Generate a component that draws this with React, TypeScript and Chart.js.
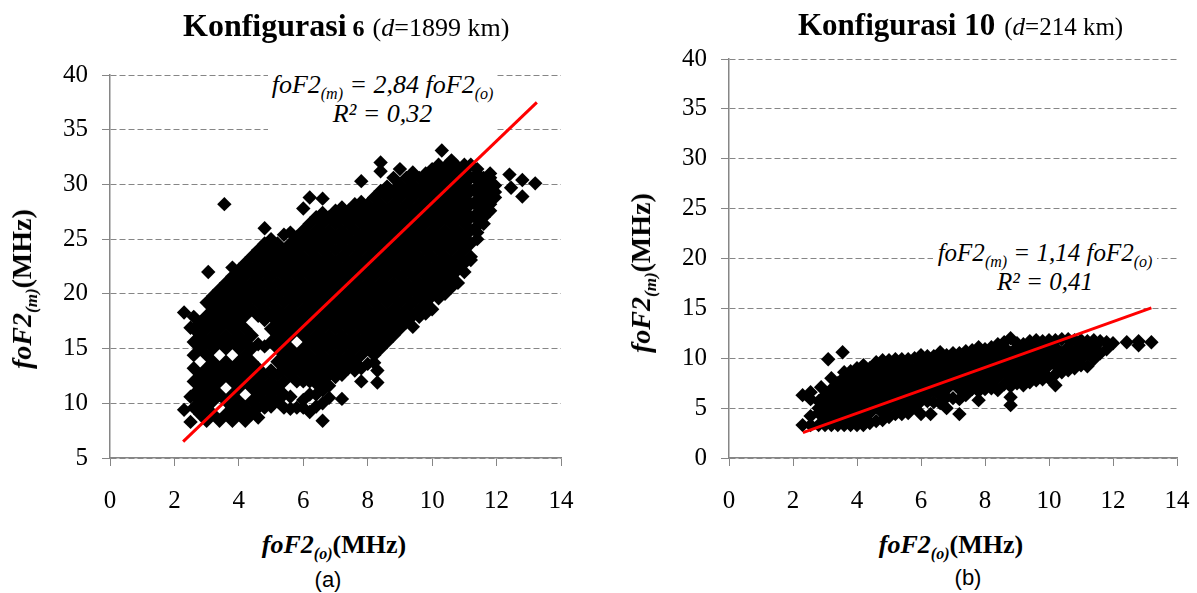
import React, { useEffect, useRef } from "react";
import { Chart, registerables } from "chart.js";

Chart.register(...registerables);

// Chart (a): observed foF2 per column, and modelled foF2 values read in that column
const obsA: number[] = [2.3,2.5,2.6,2.8,3.0,3.05,3.2,3.4,3.55,3.6,3.8,4.0,4.2,4.4,4.6,4.8,5.0,5.2,5.4,5.6,5.8,6.0,6.2,6.4,6.6,6.8,7.0,7.2,7.4,7.6,7.8,8.0,8.2,8.3,8.4,8.6,8.8,9.0,9.2,9.4,9.6,9.8,10.0,10.2,10.3,10.4,10.6,10.8,11.0,11.2,11.4,11.6,11.8,11.95,12.4,12.45,12.8,13.2];
const modA: number[][] = [
  [9.4,18.3],
  [8.3,10.6,16.9],
  [9.6,10.8,12.0,13.2,14.4,15.6,16.8,17.9],
  [9.0,10.2,11.4,12.6,15.0,16.2,17.4],
  [8.4,9.6,10.8,12.0,13.2,14.4,15.6,16.8,18.0,19.2],
  [22.0],
  [9.0,10.2,11.4,12.6,13.8,15.0,16.2,17.4,18.6,19.8],
  [8.4,10.8,12.0,13.2,15.6,16.8,18.0,19.2,20.4],
  [28.2],
  [9.0,10.2,12.6,13.8,15.0,16.2,17.4,18.6,19.8,21.0],
  [8.4,9.6,10.8,12.0,13.2,15.6,16.8,18.0,19.2,20.4,21.6,22.4],
  [9.0,10.2,11.4,12.6,13.8,15.0,16.2,17.4,18.6,19.8,21.0,22.2],
  [8.4,9.6,12.0,13.2,14.4,15.6,16.8,18.0,19.2,20.4,21.6,22.8],
  [9.0,10.2,11.4,12.6,13.8,15.0,16.2,18.6,19.8,21.0,22.2,23.4],
  [8.7,9.6,10.8,12.0,13.2,15.4,18.0,19.2,20.4,21.6,22.8,24.0],
  [9.6,10.2,11.4,12.6,15.2,17.6,18.6,19.8,21.0,22.2,23.4,24.6,26.0],
  [9.7,10.8,12.0,13.0,15.6,16.8,18.0,19.2,20.4,21.6,22.8,24.0,25.0],
  [10.2,11.4,12.6,13.8,15.0,16.2,17.4,18.6,19.8,21.0,22.2,23.4,24.6],
  [9.6,10.8,12.0,13.2,14.4,15.6,16.8,18.0,19.2,20.4,21.6,22.8,24.0,25.4],
  [9.5,10.6,12.6,13.8,15.0,16.2,17.4,18.6,19.8,21.0,22.2,23.4,24.6,25.6],
  [9.6,12.0,13.2,14.4,16.8,18.0,19.2,20.4,21.6,22.8,24.0,25.2],
  [9.6,10.3,12.0,12.6,13.8,15.0,16.2,17.4,18.6,19.8,21.0,22.2,23.4,24.6,25.8,27.8],
  [9.2,10.8,12.0,13.2,14.4,15.6,16.8,18.0,19.2,20.4,21.6,22.8,24.0,25.2,26.4,28.8],
  [9.7,10.8,11.8,12.6,13.8,15.0,16.2,17.4,18.6,19.8,21.0,22.2,23.4,24.6,25.8,27.0],
  [8.4,10.0,11.2,12.0,13.2,14.4,15.6,16.8,18.0,19.2,20.4,21.6,22.8,24.0,25.2,26.4,27.4,28.7],
  [10.5,11.6,12.6,13.8,15.0,16.2,17.4,18.6,19.8,21.0,22.2,23.4,24.6,25.8,27.0],
  [12.4,13.2,14.4,15.6,16.8,18.0,19.2,20.4,21.6,22.8,24.0,25.2,26.4,27.6],
  [10.4,12.6,13.8,15.0,16.2,17.4,18.6,19.8,21.0,22.2,23.4,24.6,25.8,27.0,27.9],
  [13.2,14.4,15.6,16.8,18.0,19.2,20.4,21.6,22.8,24.0,25.2,26.4,27.6],
  [13.0,13.8,15.0,16.2,17.4,18.6,19.8,21.0,22.2,23.4,24.6,25.8,27.0,28.2],
  [12.0,13.2,14.4,15.6,16.8,18.0,19.2,20.4,21.6,22.8,24.0,25.2,26.4,27.6,28.4,30.3],
  [13.6,15.0,16.2,17.4,18.6,19.8,21.0,22.2,23.4,24.6,25.8,27.0,28.2],
  [13.7,14.4,15.6,16.8,18.0,19.2,20.4,21.6,22.8,24.0,25.2,26.4,27.6,28.8],
  [11.9,13.0],
  [15.0,16.2,17.4,18.6,19.8,21.0,22.2,23.4,24.6,25.8,27.0,28.2,29.4,31.2,32.0],
  [15.6,16.8,18.0,19.2,20.4,21.6,22.8,24.0,25.2,26.4,27.6,28.8,29.8],
  [16.2,17.4,18.6,19.8,21.0,22.2,23.4,24.6,25.8,27.0,28.2,29.4,30.6],
  [16.8,18.0,19.2,20.4,21.6,22.8,24.0,25.2,26.4,27.6,28.8,30.0,31.4],
  [17.4,18.6,19.8,21.0,22.2,23.4,24.6,25.8,27.0,28.2,29.4,30.6],
  [17.0,18.0,19.2,20.4,21.6,22.8,24.0,25.2,26.4,27.6,28.8,30.0,31.1],
  [17.9,18.6,19.8,21.0,22.2,23.4,24.6,25.8,27.0,28.2,29.4,30.6],
  [18.2,19.2,20.4,21.6,22.8,24.0,25.2,26.4,27.6,28.8,30.0,31.0],
  [18.6,19.8,21.0,22.2,23.4,24.6,25.8,27.0,28.2,29.4,30.6,31.4],
  [19.6,20.4,21.6,22.8,24.0,25.2,26.4,27.6,28.8,30.0,31.2,31.8],
  [33.1],
  [20.0,21.0,22.2,23.4,24.6,25.8,27.0,28.2,29.4,30.6,31.6],
  [20.6,21.6,22.8,24.0,25.2,26.4,27.6,28.8,30.0,31.2,32.2],
  [21.0,22.2,23.4,24.6,25.8,27.0,28.2,29.4,30.6,31.6],
  [22.0,22.8,24.0,25.2,26.4,27.6,28.8,30.0,31.2,31.8],
  [23.1,23.4,24.6,25.8,27.0,28.2,29.4,30.6,31.8],
  [25.0,25.6,26.2,26.8,27.4,28.0,28.6,29.2,29.8,30.4,31.0,31.4],
  [26.4,27.0,27.6,28.2,28.8,29.4,30.0,30.6],
  [27.6,28.2,28.8,29.4,30.0,30.6,31.0],
  [28.8,29.3,29.9],
  [30.9],
  [29.7],
  [30.4,28.9],
  [30.1],
];
const lineXA: number[] = [2.27, 13.25];
const lineYA: number[] = [6.5, 37.5];

// Chart (b)
const obsB: number[] = [2.3,2.55,2.8,2.88,3.0,3.1,3.2,3.4,3.55,3.6,3.8,4.0,4.2,4.4,4.6,4.8,5.0,5.2,5.4,5.6,5.8,6.0,6.2,6.3,6.4,6.6,6.8,7.0,7.2,7.4,7.6,7.8,8.0,8.2,8.4,8.6,8.8,9.0,9.2,9.4,9.6,9.8,10.0,10.2,10.4,10.6,10.8,11.0,11.2,11.4,11.6,11.8,12.0,12.43,12.8,13.2];
const modB: number[][] = [
  [3.3,6.3],
  [3.3,4.2,5.9,6.6],
  [3.3,4.5,5.0,5.7],
  [7.1],
  [3.3,3.9,5.1,6.3],
  [9.9],
  [3.3,4.5,5.7,6.9,8.0],
  [3.3,3.9,5.1,6.3,7.5],
  [10.6],
  [3.3,4.5,5.7,6.9,8.1,8.6],
  [3.3,3.9,5.1,6.3,7.5,8.7],
  [3.3,4.5,5.7,6.9,8.1,9.0],
  [3.3,3.9,5.1,6.3,7.5,8.7,9.3],
  [3.5,4.5,5.7,6.9,8.1,9.0],
  [3.7,5.1,6.3,7.5,8.7,9.6],
  [3.8,4.5,5.7,6.9,8.1,9.3,9.8],
  [4.1,5.1,6.3,7.5,8.7,9.8],
  [4.4,5.7,6.9,8.1,9.3,9.9],
  [4.4,5.1,6.3,7.5,8.7,9.9],
  [4.5,5.7,6.9,8.1,9.3,9.9],
  [5.1,6.3,7.5,8.7,10.0],
  [4.4,5.7,6.9,8.1,9.3,10.3],
  [5.7,6.3,7.5,8.7,9.9,10.2],
  [4.4],
  [5.6,6.9,8.1,9.3,10.2],
  [5.5,6.3,7.5,8.7,9.9,10.6],
  [5.0,6.1,6.9,8.1,9.3,10.3],
  [6.0,7.5,8.7,9.9,10.5],
  [4.4,5.9,6.9,8.1,9.3,10.5],
  [6.3,7.5,8.7,9.9,10.7],
  [6.9,8.1,9.3,10.5,10.8],
  [5.8,6.7,7.5,8.7,9.9,11.1],
  [6.9,8.1,9.3,10.5,10.9],
  [7.0,7.5,8.7,9.9,11.1],
  [6.8,8.1,9.3,10.5,11.4],
  [7.4,8.7,9.9,11.1,11.6],
  [5.3,6.1,7.2,8.1,9.3,10.5,12.0],
  [7.5,8.7,9.9,11.1,11.5],
  [7.3,8.1,9.3,10.5,11.4],
  [7.6,8.7,9.9,11.1,11.7],
  [7.8,8.1,9.3,10.5,11.8],
  [7.9,8.7,9.9,11.1,11.7],
  [8.0,9.3,10.5,11.8],
  [7.3,8.4,9.3,9.9,11.1,11.8],
  [8.6,9.3,10.5,11.9],
  [8.8,9.9,11.1,11.9],
  [9.0,9.3,10.5,11.8],
  [9.3,9.9,11.1,11.8],
  [9.2,10.5,11.7],
  [9.9,11.1,11.8],
  [10.5,11.7],
  [10.9,11.6],
  [11.5],
  [11.6],
  [11.3,11.7],
  [11.6],
];
const lineXB: number[] = [2.31, 13.2];
const lineYB: number[] = [2.55, 15.05];

const xTicks: number[] = [0, 2, 4, 6, 8, 10, 12, 14];
const SERIF = "'Liberation Serif', 'Times New Roman', serif";
const GREY = "#868686";

function toPoints(xs: number[], ys: number[][]) {
  const pts: { x: number; y: number }[] = [];
  xs.forEach((x, i) => ys[i].forEach((y) => pts.push({ x, y })));
  return pts;
}

function makeChart(
  canvas: HTMLCanvasElement,
  pts: { x: number; y: number }[],
  lx: number[],
  ly: number[],
  yMin: number,
  padTop: number,
  yWidth: number,
  padRight: number
) {
  return new Chart(canvas, {
    type: "scatter",
    data: {
      datasets: [
        {
          label: "Fit",
          data: lx.map((x, i) => ({ x, y: ly[i] })),
          showLine: true,
          borderColor: "#ff0000",
          borderWidth: 3,
          pointRadius: 0,
          order: 0,
        },
        {
          label: "foF2",
          data: pts,
          pointStyle: "rectRot",
          pointRadius: 7.2,
          backgroundColor: "#000000",
          borderWidth: 0,
          order: 1,
        },
      ],
    },
    options: {
      responsive: false,
      animation: false,
      layout: { padding: { top: padTop, right: padRight, left: 0, bottom: 0 } },
      plugins: { legend: { display: false }, tooltip: { enabled: false } },
      scales: {
        x: {
          type: "linear",
          min: 0,
          max: 14,
          afterFit: (s: any) => { s.height = 62; s.paddingRight = 0; s.paddingLeft = 0; },
          afterBuildTicks: (s: any) => { s.ticks = xTicks.map((value) => ({ value })); },
          grid: { drawOnChartArea: false, tickLength: 8, tickColor: GREY },
          border: { color: GREY, width: 1.5 },
          ticks: { color: "#000", font: { family: SERIF, size: 25 }, padding: 20, maxRotation: 0 },
        },
        y: {
          min: yMin,
          max: 40,
          afterFit: (s: any) => { s.width = yWidth; },
          grid: { color: GREY, lineWidth: 1, tickLength: 8, tickColor: GREY },
          border: { color: GREY, width: 1.5, dash: [6, 3] },
          ticks: { stepSize: 5, color: "#000", font: { family: SERIF, size: 25 }, padding: 14 },
        },
      },
    },
  } as any);
}

const abs = (left: number, top: number, extra: React.CSSProperties = {}): React.CSSProperties => ({
  position: "absolute",
  left,
  top,
  whiteSpace: "nowrap",
  fontFamily: SERIF,
  color: "#000",
  lineHeight: 1,
  ...extra,
});

const Sub = ({ t, size }: { t: string; size: number }) => (
  <span style={{ fontSize: size, position: "relative", top: size * 0.35, lineHeight: 0 }}>{t}</span>
);

const AxisName = ({ sub, size }: { sub: string; size: number }) => (
  <span style={{ fontWeight: "bold", fontSize: size }}>
    <i>foF2</i>
    <i><Sub t={sub} size={Math.round(size * 0.62)} /></i>
    (MHz)
  </span>
);

function Equation({ left, top, width, height, k, r, textTop, size }: any) {
  return (
    <div style={{ position: "absolute", left, top, width, height, background: "#fff" }}>
      <div style={{ position: "absolute", left: 0, right: 0, top: textTop, textAlign: "center", fontFamily: SERIF, fontStyle: "italic", fontSize: size, lineHeight: "29px", whiteSpace: "nowrap" }}>
        foF2<Sub t="(m)" size={16} /> = {k} foF2<Sub t="(o)" size={16} />
        <br />
        R² = {r}
      </div>
    </div>
  );
}

export default function App() {
  const leftRef = useRef<HTMLCanvasElement>(null);
  const rightRef = useRef<HTMLCanvasElement>(null);

  useEffect(() => {
    const a = makeChart(leftRef.current!, toPoints(obsA, modA), lineXA, lineYA, 5, 75, 110, 29);
    const b = makeChart(rightRef.current!, toPoints(obsB, modB), lineXB, lineYB, 0, 59, 119, 17);
    return () => {
      a.destroy();
      b.destroy();
    };
  }, []);

  return (
    <div style={{ position: "absolute", left: 0, top: 0, width: 1197, height: 593, overflow: "hidden", background: "#fff" }}>
      <canvas ref={leftRef} width={590} height={520} style={{ position: "absolute", left: 0, top: 0 }} />
      <canvas ref={rightRef} width={584} height={520} style={{ position: "absolute", left: 610, top: 0 }} />

      <div style={abs(183, 9)}>
        <span style={{ fontWeight: "bold", fontSize: 32 }}>Konfigurasi</span>
        <span style={{ fontWeight: "bold", fontSize: 24 }}> 6 </span>
        <span style={{ fontSize: 26, marginLeft: 2 }}>(<i>d</i>=1899 km)</span>
      </div>
      <div style={abs(798, 9)}>
        <span style={{ fontWeight: "bold", fontSize: 31 }}>Konfigurasi 10</span>
        <span style={{ fontSize: 25, marginLeft: 9 }}>(<i>d</i>=214 km)</span>
      </div>

      <Equation left={268} top={64} width={229} height={70} k="2,84" r="0,32" textTop={6} size={26} />
      <Equation left={933} top={236} width={224} height={62} k="1,14" r="0,41" textTop={2} size={25} />

      <div style={abs(22, 289, { transform: "translate(-50%,-50%) rotate(-90deg)" })}><AxisName sub="(m)" size={28} /></div>
      <div style={abs(641, 273, { transform: "translate(-50%,-50%) rotate(-90deg)" })}><AxisName sub="(m)" size={28} /></div>
      <div style={abs(334, 545, { transform: "translate(-50%,-50%)" })}><AxisName sub="(o)" size={26} /></div>
      <div style={abs(951, 545, { transform: "translate(-50%,-50%)" })}><AxisName sub="(o)" size={26} /></div>
      <div style={abs(328, 580, { transform: "translate(-50%,-50%)", fontFamily: "'Liberation Sans', Arial, sans-serif", fontSize: 22 })}>(a)</div>
      <div style={abs(968, 578, { transform: "translate(-50%,-50%)", fontFamily: "'Liberation Sans', Arial, sans-serif", fontSize: 22 })}>(b)</div>
    </div>
  );
}
